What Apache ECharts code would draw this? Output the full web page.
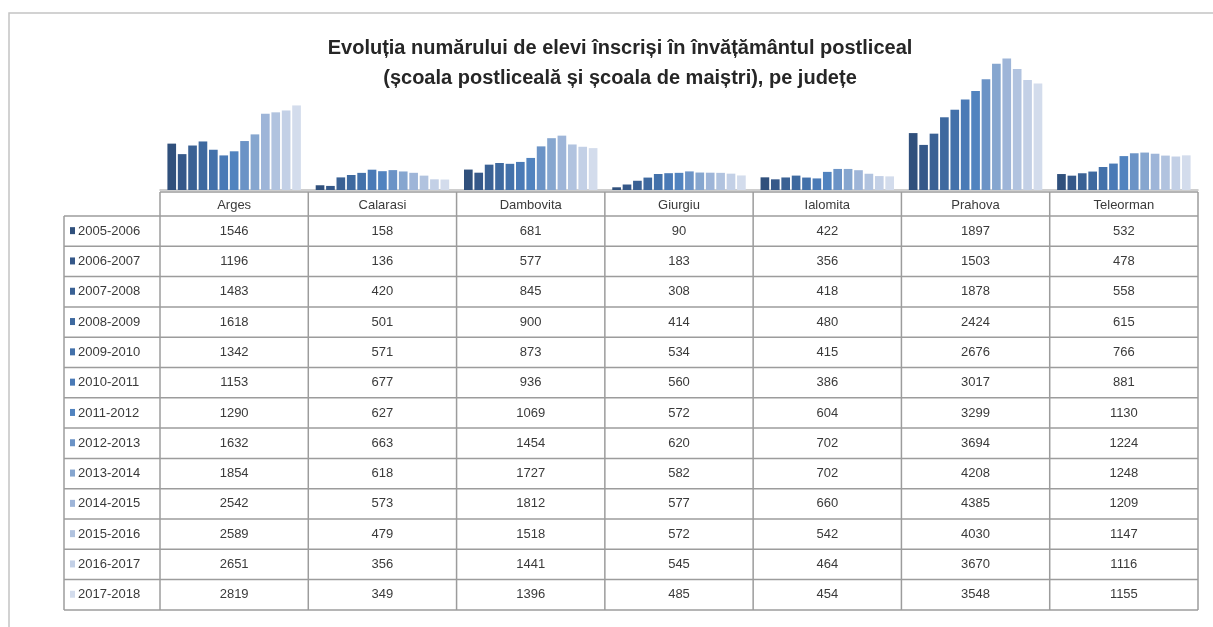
<!DOCTYPE html>
<html>
<head>
<meta charset="utf-8">
<script src="https://cdn.jsdelivr.net/npm/echarts@6/dist/echarts.min.js"></script>
<style>
  html, body { margin: 0; padding: 0; background: #fff; }
  #chart { width: 1213px; height: 627px; }
</style>
</head>
<body>
<div id="chart"></div>
<script>
var counties = ["Arges", "Calarasi", "Dambovita", "Giurgiu", "Ialomita", "Prahova", "Teleorman"];
var years = ["2005-2006", "2006-2007", "2007-2008", "2008-2009", "2009-2010", "2010-2011", "2011-2012",
  "2012-2013", "2013-2014", "2014-2015", "2015-2016", "2016-2017", "2017-2018"];

// numar elevi, pe ani scolari
var arges = [1546, 1196, 1483, 1618, 1342, 1153, 1290, 1632, 1854, 2542, 2589, 2651, 2819];
var calarasi = [158, 136, 420, 501, 571, 677, 627, 663, 618, 573, 479, 356, 349];
var dambovita = [681, 577, 845, 900, 873, 936, 1069, 1454, 1727, 1812, 1518, 1441, 1396];
var giurgiu = [90, 183, 308, 414, 534, 560, 572, 620, 582, 577, 572, 545, 485];
var ialomita = [422, 356, 418, 480, 415, 386, 604, 702, 702, 660, 542, 464, 454];
var prahova = [1897, 1503, 1878, 2424, 2676, 3017, 3299, 3694, 4208, 4385, 4030, 3670, 3548];
var teleorman = [532, 478, 558, 615, 766, 881, 1130, 1224, 1248, 1209, 1147, 1116, 1155];

var colors = ["#30507c", "#355889", "#3a6194", "#3e699f", "#4371aa", "#4a7ab6", "#5183bf",
  "#6b93c6", "#86a6cf", "#9eb5d8", "#b1c3df", "#c3d0e6", "#d3dcec"];

var byCounty = [arges, calarasi, dambovita, giurgiu, ialomita, prahova, teleorman];

var FONT = "'Liberation Sans Narrow', 'Liberation Sans', Arial, sans-serif";
var gridLeft = 160, gridRight = 1198, gridTop = 55, gridBottom = 190;
var headTop = 192, rowTop = 216, rowH = 30.3, legLeft = 64;
var colW = (gridRight - gridLeft) / counties.length;
var lineStyle = { stroke: "#9c9c9c", lineWidth: 1.5 };

var chart = echarts.init(document.getElementById("chart"));

var series = years.map(function(y, i) {
  return {
    name: y,
    type: "bar",
    data: byCounty.map(function(c) { return c[i]; }),
    itemStyle: { color: colors[i] },
    barGap: "20%",
    barCategoryGap: "10%",
    silent: true
  };
});

// tabelul de sub grafic
var graphics = [];
graphics.push({ type: "rect", shape: { x: 9, y: 13, width: 1300, height: 700 },
  style: { fill: null, stroke: "#c4c4c4", lineWidth: 1.5 } });

var tableBottom = rowTop + years.length * rowH;
function hline(x1, x2, y) {
  graphics.push({ type: "line", shape: { x1: x1, y1: y, x2: x2, y2: y }, style: lineStyle });
}
function vline(x, y1, y2) {
  graphics.push({ type: "line", shape: { x1: x, y1: y1, x2: x, y2: y2 }, style: lineStyle });
}
hline(gridLeft, gridRight, headTop);
for (var r = 0; r <= years.length; r++) {
  hline(legLeft, gridRight, rowTop + r * rowH);
}
vline(legLeft, rowTop, tableBottom);
for (var c = 0; c <= counties.length; c++) {
  vline(gridLeft + c * colW, headTop, tableBottom);
}

counties.forEach(function(name, ci) {
  graphics.push({ type: "text", x: gridLeft + (ci + 0.5) * colW, y: (headTop + rowTop) / 2 + 1,
    style: { text: name, fill: "#3a3a3a", font: "13px " + FONT, align: "center", verticalAlign: "middle" } });
});

years.forEach(function(y, ri) {
  var cy = rowTop + (ri + 0.5) * rowH;
  graphics.push({ type: "rect", shape: { x: legLeft + 6, y: cy - 4, width: 5, height: 7 },
    style: { fill: colors[ri] } });
  graphics.push({ type: "text", x: legLeft + 14, y: cy,
    style: { text: y, fill: "#3a3a3a", font: "13px " + FONT, align: "left", verticalAlign: "middle" } });
  byCounty.forEach(function(vals, ci) {
    graphics.push({ type: "text", x: gridLeft + (ci + 0.5) * colW, y: cy,
      style: { text: String(vals[ri]), fill: "#3a3a3a", font: "13px " + FONT, align: "center", verticalAlign: "middle" } });
  });
});

var option = {
  backgroundColor: "#ffffff",
  animation: false,
  title: {
    text: "Evoluția numărului de elevi înscriși în învățământul postliceal\n(școala postliceală și școala de maiștri), pe județe",
    left: 615,
    textAlign: "center",
    top: 28,
    textStyle: { fontFamily: FONT, fontSize: 20, fontWeight: "bold", color: "#262626", lineHeight: 30 }
  },
  grid: { left: gridLeft, right: 1213 - gridRight, top: gridTop, bottom: 627 - gridBottom },
  xAxis: {
    type: "category",
    data: counties,
    axisLine: { lineStyle: { color: "#bfbfbf", width: 1.5 } },
    axisTick: { show: false },
    axisLabel: { show: false }
  },
  yAxis: {
    type: "value",
    min: 0,
    max: 4500,
    show: false,
    splitLine: { show: false }
  },
  series: series,
  graphic: graphics
};

chart.setOption(option);
window.onresize = function() {
  chart.resize();
};
</script>
</body>
</html>
